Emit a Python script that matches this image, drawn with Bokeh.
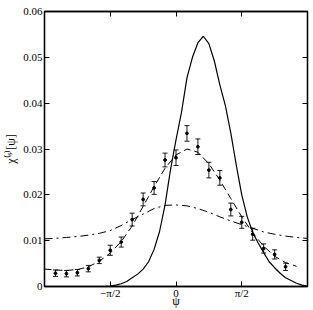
import math
from bokeh.plotting import figure
from bokeh.models import (ColumnDataSource, FixedTicker, LinearAxis, Whisker, TeeHead, Range1d)
from bokeh.embed import file_html
from bokeh.resources import INLINE

PI = math.pi

# data points (psi in units of pi/12)
pts_k = list(range(-11, 11))
pts_val = [0.0029, 0.0028, 0.0030, 0.0039, 0.0057, 0.0079, 0.0097, 0.0146, 0.0190, 0.0215, 0.0276,
           0.0281, 0.0334, 0.0305, 0.0254, 0.0237, 0.0168, 0.0140, 0.0114, 0.0083, 0.0070, 0.0043]
pts_err = [0.0007, 0.0007, 0.0007, 0.0007, 0.0007, 0.0011, 0.0011, 0.0014, 0.0014, 0.0014, 0.0015,
           0.0017, 0.0017, 0.0017, 0.0017, 0.0016, 0.0014, 0.0013, 0.0013, 0.0010, 0.0010, 0.0008]

# solid curve (psi in units of pi/24)
solid_k = list(range(-24, 25))
solid_val = [0, 0, 0, 0, 0, 0, 0, 0, 0, 0, 0, 0.0000,
             0.0001, 0.0003, 0.0006, 0.0011, 0.0019, 0.0027, 0.0038, 0.0054, 0.0081, 0.0120, 0.0178, 0.0255,
             0.0320, 0.0380, 0.0455, 0.0500, 0.0532, 0.0546, 0.0530, 0.0492, 0.0440, 0.0395, 0.0335, 0.0265,
             0.0200, 0.0152, 0.0118, 0.0095, 0.0074, 0.0054, 0.0041, 0.0029, 0.0019, 0.0013, 0.0007, 0.0003, 0.0001]

# dash-dot curve (psi in units of pi/12)
dd_k = list(range(-12, 13))
dd_val = [0.0104, 0.0105, 0.0107, 0.0109, 0.0112, 0.0116, 0.0122, 0.0133, 0.0146, 0.0158, 0.0170, 0.0177,
          0.0178, 0.0176, 0.0170, 0.0162, 0.0152, 0.0143, 0.0135, 0.0127, 0.0119, 0.0114, 0.0110, 0.0107, 0.0105]

# dashed curve (psi in units of pi/12)
dash_k = list(range(-12, 12))
dash_val = [0.0038, 0.0036, 0.0035, 0.0037, 0.0043, 0.0055, 0.0073, 0.0098, 0.0132, 0.0175, 0.0218, 0.0258,
            0.0287, 0.0300, 0.0293, 0.0268, 0.0232, 0.0192, 0.0152, 0.0117, 0.0088, 0.0066, 0.0052, 0.0044]

x_ticks = [-PI / 2, 0, PI / 2]
x_tick_labels = ["\u2212\u03c0/2", "0", "\u03c0/2"]
y_ticks = [0, 0.01, 0.02, 0.03, 0.04, 0.05, 0.06]
y_tick_labels = ["0", "0.01", "0.02", "0.03", "0.04", "0.05", "0.06"]

FONT = "Liberation Serif"

p = figure(width=313, height=310, output_backend="svg", toolbar_location=None,
           x_range=Range1d(-PI, PI), y_range=Range1d(0, 0.06),
           min_border_left=44, min_border_right=6, min_border_top=11, min_border_bottom=23)
p.grid.visible = False
p.outline_line_color = "black"
p.outline_line_width = 1.3
p.background_fill_color = "white"
p.border_fill_color = "white"

def style_axis(ax, labels=True):
    ax.axis_line_color = "black"
    ax.axis_line_width = 1.3
    ax.major_tick_in = 5
    ax.major_tick_out = 0
    ax.minor_tick_in = 0
    ax.minor_tick_out = 0
    ax.major_tick_line_color = "black"
    ax.major_tick_line_width = 1
    ax.major_label_text_font = FONT
    ax.major_label_text_font_size = "11px"
    ax.major_label_text_color = "black"
    ax.major_label_standoff = 2
    if not labels:
        ax.major_label_standoff = 0

xa = p.xaxis[0]
xa.ticker = FixedTicker(ticks=x_ticks)
xa.major_label_overrides = {t: l for t, l in zip(x_ticks, x_tick_labels)}
style_axis(xa)
xa.major_label_standoff = 0
xa.axis_label = "\u03c8"
xa.axis_label_text_font = FONT
xa.axis_label_text_font_style = "normal"
xa.axis_label_text_font_size = "12px"
xa.axis_label_text_color = "black"
xa.axis_label_standoff = -8

ya = p.yaxis[0]
ya.ticker = FixedTicker(ticks=y_ticks)
ya.major_label_overrides = {t: l for t, l in zip(y_ticks, y_tick_labels)}
style_axis(ya)
ya.axis_label = "\u03c7\u207d\u02e2\u207e[\u03c8]"
ya.axis_label_text_font = FONT
ya.axis_label_text_font_style = "normal"
ya.axis_label_text_font_size = "12px"
ya.axis_label_text_color = "black"
ya.axis_label_standoff = 2

top = LinearAxis(ticker=FixedTicker(ticks=x_ticks),
                 major_label_overrides={t: "" for t in x_ticks})
style_axis(top, labels=False)
p.add_layout(top, "above")
right = LinearAxis(ticker=FixedTicker(ticks=y_ticks),
                   major_label_overrides={t: "" for t in y_ticks})
style_axis(right, labels=False)
p.add_layout(right, "right")

u12 = PI / 12
u24 = PI / 24

p.line([k * u24 for k in solid_k], solid_val, line_color="black", line_width=1.2)
p.line([k * u12 for k in dd_k], dd_val, line_color="black", line_width=1, line_dash="8 4 2 4")
p.line([k * u12 for k in dash_k], dash_val, line_color="black", line_width=1, line_dash="7 4")

px = [k * u12 for k in pts_k]
src = ColumnDataSource(dict(x=px, y=pts_val,
                            lo=[v - e for v, e in zip(pts_val, pts_err)],
                            hi=[v + e for v, e in zip(pts_val, pts_err)]))
w = Whisker(source=src, base="x", lower="lo", upper="hi", line_color="black", line_width=0.9,
            upper_head=TeeHead(size=5, line_color="black", line_width=0.9),
            lower_head=TeeHead(size=5, line_color="black", line_width=0.9))
p.add_layout(w)
p.scatter("x", "y", source=src, size=2.8, marker="circle", fill_color="black", line_color="black")

open("out.html", "w").write(file_html(p, INLINE))
